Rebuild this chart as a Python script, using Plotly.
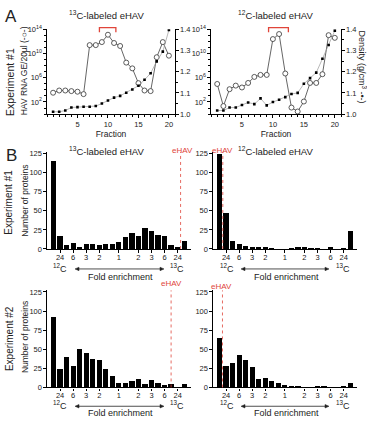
import plotly.graph_objects as go

W, H = 367, 421
FONT = "Arial, Liberation Sans, sans-serif"

# ---------------- Data ----------------
fractions = list(range(1, 21))
rna_13c = [3.4e3, 7.9e3, 7.9e3, 6.3e3, 5.0e3, 2.0e3, 2.5e11, 2.5e11, 7.9e11, 1.3e13,
           5.6e11, 1.8e11, 3.2e8, 3.6e7, 1.3e5, 7.9e3, 6.3e3, 2.5e9, 7.9e11, 4.5e9]
dens_13c = [1.011, 1.011, 1.017, 1.031, 1.033, 1.035, 1.035, 1.038, 1.050, 1.064,
            1.078, 1.086, 1.101, 1.116, 1.134, 1.162, 1.193, 1.249, 1.295, 1.397]
rna_12c = [9.5e4, 21, 1.3e4, 5.1e4, 2.5e4, 1.4e5, 1.4e6, 3.0e6, 3.0e6, 2.5e12,
           1.7e13, 5.1e6, 12, 2.7, 120, 1.4e5, 1.4e5, 3.9e6, 1.1e13, 4.0e12]
dens_12c = [1.017, 1.017, 1.031, 1.031, 1.043, 1.055, 1.047, 1.074, 1.041, 1.057,
            1.068, 1.080, 1.095, 1.100, 1.143, 1.170, 1.196, 1.261, 1.326, 1.394]

bins = list(range(1, 22))
exp1_13c = [115, 17, 5, 8, 3, 6, 7, 5, 7, 7, 9, 15, 21, 17, 27, 23, 18, 17, 5, 3, 10]
exp1_12c = [125, 47, 11, 7, 4, 2, 2, 2, 1, 0, 0, 1, 2, 2, 0.5, 1, 0, 2, 0, 1, 23]
exp2_13c = [92, 24, 39, 27, 50, 45, 37, 36, 24, 15, 6, 6, 8, 10, 4, 9, 6, 3, 4, 0, 4]
exp2_12c = [64, 27, 32, 42, 35, 26, 11, 12, 8, 5, 3, 1, 1, 0, 0, 2, 1, 0, 0, 1, 5]

fold_tickvals = [2, 4, 6, 8, 11, 14, 16, 18, 20]
fold_ticktext = ["24", "6", "3", "2", "1", "2", "3", "6", "24"]
ehav_pos = {"tl": 20.45, "tr": 1.5, "bl": 19.0, "br": 1.45}

# ---------------- helpers ----------------
def px(x):
    return x / W

def py(y):
    return 1 - y / H

fig = go.Figure()

axcommon = dict(showline=True, linecolor="black", linewidth=1.2, ticks="outside",
                ticklen=2.5, tickwidth=1, tickcolor="black", showgrid=False, zeroline=False,
                tickfont=dict(size=7.5, family=FONT, color="#222"))

# ---- Panel A traces ----
for i, (rna, dens) in enumerate([(rna_13c, dens_13c), (rna_12c, dens_12c)]):
    xa = "x" if i == 0 else "x2"
    ya_log = "y" if i == 0 else "y3"
    ya_d = "y2" if i == 0 else "y4"
    fig.add_trace(go.Scatter(x=fractions, y=dens, xaxis=xa, yaxis=ya_d, mode="lines+markers",
                             line=dict(color="#9a9a9a", width=0.7),
                             marker=dict(symbol="square", size=2.6, color="black"),
                             showlegend=False))
    fig.add_trace(go.Scatter(x=fractions, y=rna, xaxis=xa, yaxis=ya_log, mode="lines+markers",
                             line=dict(color="#555", width=0.9),
                             marker=dict(symbol="circle", size=5, color="white",
                                         line=dict(color="#333", width=0.8)),
                             showlegend=False))

# ---- Panel B bars ----
bar_sets = [("x3", "y5", exp1_13c), ("x4", "y6", exp1_12c), ("x5", "y7", exp2_13c), ("x6", "y8", exp2_12c)]
for xa, ya, vals in bar_sets:
    fig.add_trace(go.Bar(x=bins, y=vals, xaxis=xa, yaxis=ya, width=0.8,
                         marker=dict(color="black", line=dict(width=0)), showlegend=False))

layout = dict(width=W, height=H, margin=dict(l=0, r=0, t=0, b=0),
              paper_bgcolor="white", plot_bgcolor="white", bargap=0,
              font=dict(family=FONT, size=8, color="#222"))

# Panel A axes
A_left = [47, 175]
A_right = [211, 341]
A_y = [py(111), py(24)]
log_ticks = dict(type="log", range=[0, 14], tickvals=[1e2, 1e6, 1e10, 1e14],
                 ticktext=["10<sup>2</sup>", "10<sup>6</sup>", "10<sup>10</sup>", "10<sup>14</sup>"],
                 minor=dict(tickvals=[10 ** k for k in range(15)], ticks="outside", ticklen=2,
                            tickcolor="black"))
dens_ticks = dict(range=[1.0, 1.4], tickvals=[1.0, 1.1, 1.2, 1.3, 1.4], ticktext=["1.0", "1.1", "1.2", "1.3", "1.4"],
                  minor=dict(dtick=0.05, ticks="outside", ticklen=2, tickcolor="black"))
frac_ticks = dict(range=[0, 21], tickvals=[5, 10, 15, 20],
                  minor=dict(dtick=1, ticks="outside", ticklen=2, tickcolor="black"),
                  title=dict(text="Fraction", font=dict(size=8.5, family=FONT), standoff=2))

layout["xaxis"] = dict(axcommon, domain=[px(A_left[0]), px(A_left[1])], anchor="y", **frac_ticks)
layout["yaxis"] = dict(axcommon, domain=A_y, anchor="x", **log_ticks)
layout["yaxis2"] = dict(axcommon, anchor="x", overlaying="y", side="right", **dens_ticks)
layout["xaxis2"] = dict(axcommon, domain=[px(A_right[0]), px(A_right[1])], anchor="y3", **frac_ticks)
layout["yaxis3"] = dict(axcommon, domain=A_y, anchor="x2", **log_ticks)
layout["yaxis4"] = dict(axcommon, anchor="x2", overlaying="y3", side="right", **dens_ticks)

# Panel B axes
B_top_y = [py(249.5), py(150)]
B_bot_y = [py(391.7), py(292)]
B_left_x = [px(47), px(190.7)]
B_right_x = [px(213), px(356.7)]
fold_x = dict(range=[0, 22], tickvals=fold_tickvals, ticktext=fold_ticktext, ticklabelstandoff=-2)
count_y = dict(range=[0, 127], tickvals=[0, 25, 50, 75, 100, 125])
for n, (dx, dy) in zip([3, 4, 5, 6], [(B_left_x, B_top_y), (B_right_x, B_top_y),
                                      (B_left_x, B_bot_y), (B_right_x, B_bot_y)]):
    yn = n + 2
    layout[f"xaxis{n}"] = dict(axcommon, domain=dx, anchor=f"y{yn}", **fold_x)
    layout[f"yaxis{yn}"] = dict(axcommon, domain=dy, anchor=f"x{n}", **count_y)

fig.update_layout(**layout)

# ---- shapes: red brackets and eHAV lines ----
RED = "#e0453a"
for xa, ya, x0, x1 in [("x", "y", 8.6, 11.3), ("x2", "y3", 9.3, 12.5)]:
    fig.add_shape(type="path", xref=xa, yref=f"{ya} domain",
                  path=f"M {x0} 0.965 L {x0} 1.02 L {x1} 1.02 L {x1} 0.965",
                  line=dict(color=RED, width=1.3))

for key, xa, ya in [("tl", "x3", "y5"), ("tr", "x4", "y6"), ("bl", "x5", "y7"), ("br", "x6", "y8")]:
    xv = ehav_pos[key]
    fig.add_shape(type="line", xref=xa, yref=f"{ya} domain", x0=xv, x1=xv, y0=0, y1=1.0,
                  line=dict(color=RED, width=0.8, dash="dot"))

# ---- annotations ----
def ann(x, y, text, size=8, color="#222", angle=0, xanchor="center", yanchor="middle"):
    fig.add_annotation(x=px(x), y=py(y), xref="paper", yref="paper", text=text, showarrow=False,
                       font=dict(size=size, family=FONT, color=color), textangle=angle,
                       xanchor=xanchor, yanchor=yanchor)

ann(11, 11, "A", size=17)
ann(11, 153, "B", size=17)
ann(107, 9, "<sup>13</sup>C-labeled eHAV", size=9.5)
ann(275, 9, "<sup>12</sup>C-labeled eHAV", size=9.5)
ann(10, 78, "Experiment #1", size=10.5, angle=-90)
ann(24, 66, "HAV RNA GE/20µl (-○-)", size=8.5, angle=-90)
ann(362, 62, "Density (g/cm<sup>3</sup> -•-)", size=9, angle=90)

ann(107, 149, "<sup>13</sup>C-labeled eHAV", size=9.5)
ann(275, 149, "<sup>12</sup>C-labeled eHAV", size=9.5)
ann(182, 148, "eHAV", size=8, color=RED)
ann(222, 148, "eHAV", size=8, color=RED)
ann(171, 285, "eHAV", size=8, color=RED)
ann(221, 288, "eHAV", size=8, color=RED)
ann(9, 202, "Experiment #1", size=10, angle=-90)
ann(25, 200, "Number of proteins", size=8.5, angle=-90)
ann(9, 342, "Experiment #2", size=10, angle=-90)
ann(25, 340, "Number of proteins", size=8.5, angle=-90)

# double-headed arrows as shapes (line + two filled heads)
def arrow(x0, x1, y):
    yp = py(y)
    fig.add_shape(type="line", xref="paper", yref="paper", x0=px(x0 + 3), x1=px(x1 - 3), y0=yp, y1=yp,
                  line=dict(color="#222", width=0.8))
    for xe, d in [(x0, 1), (x1, -1)]:
        path = (f"M {px(xe)} {yp} L {px(xe + d * 4)} {py(y - 1.8)} "
                f"L {px(xe + d * 4)} {py(y + 1.8)} Z")
        fig.add_shape(type="path", xref="paper", yref="paper", path=path,
                      fillcolor="#222", line=dict(color="#222", width=0.5))

for (xl, xr, xa0, xa1, yrow, yfold, xfold) in [
        (60, 177, 75, 164, 269, 278, 120), (227, 343, 241, 329, 269, 278, 286),
        (60, 177, 75, 164, 410, 418, 120), (227, 343, 241, 329, 410, 418, 286)]:
    ann(xl, yrow, "<sup>12</sup>C", size=9)
    ann(xr, yrow, "<sup>13</sup>C", size=9)
    ann(xfold, yfold, "Fold enrichment", size=9)
    arrow(xa0, xa1, yrow + 1)

fig.write_html("out.html")
